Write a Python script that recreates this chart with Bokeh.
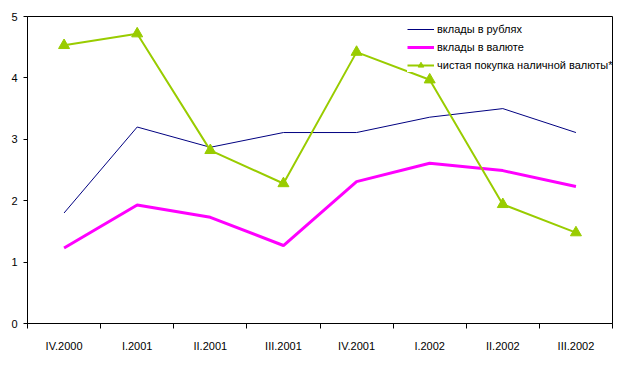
from bokeh.plotting import figure
from bokeh.models import FixedTicker, Range1d, Legend, LegendItem
from bokeh.embed import file_html
from bokeh.resources import INLINE

categories = ["IV.2000", "I.2001", "II.2001", "III.2001", "IV.2001", "I.2002", "II.2002", "III.2002"]
rub = [1.80, 3.20, 2.87, 3.11, 3.11, 3.36, 3.50, 3.11]
fx = [1.23, 1.93, 1.73, 1.27, 2.31, 2.61, 2.49, 2.23]
cash = [4.53, 4.72, 2.82, 2.28, 4.42, 3.97, 1.94, 1.48]
names = ["вклады в рублях", "вклады в валюте", "чистая покупка наличной валюты*"]

x = [i + 0.5 for i in range(len(categories))]

FONT = "Liberation Sans"

p = figure(width=631, height=360, output_backend="svg", toolbar_location=None,
           x_range=Range1d(0, len(categories)), y_range=Range1d(0, 5),
           min_border_left=27, min_border_right=19, min_border_top=16, min_border_bottom=37)
p.xgrid.visible = False
p.ygrid.visible = False
p.outline_line_color = "black"
p.outline_line_width = 1
p.background_fill_color = "white"
p.border_fill_color = "white"

r1 = p.line(x, rub, line_color="#000080", line_width=1)
r2 = p.line(x, fx, line_color="#FF00FF", line_width=3)
r3 = p.line(x, cash, line_color="#99CC00", line_width=2)
r3m = p.scatter(x, cash, marker="triangle", size=11, fill_color="#99CC00", line_color="#99CC00")

# x axis: labels at centers, ticks at boundaries
p.xaxis.ticker = FixedTicker(ticks=x, minor_ticks=list(range(len(categories) + 1)))
p.xaxis.major_label_overrides = {xi: c for xi, c in zip(x, categories)}
p.xaxis.major_tick_out = 0
p.xaxis.major_tick_in = 0
p.xaxis.minor_tick_out = 5
p.xaxis.minor_tick_in = 0
p.xaxis.minor_tick_line_color = "black"
p.xaxis.major_label_standoff = 11

p.yaxis.ticker = FixedTicker(ticks=[0, 1, 2, 3, 4, 5])
p.yaxis.major_tick_out = 4
p.yaxis.major_tick_in = 0
p.yaxis.minor_tick_line_color = None
p.yaxis.major_label_standoff = 6

for ax in [p.xaxis[0], p.yaxis[0]]:
    ax.axis_line_color = "black"
    ax.major_tick_line_color = "black"
    ax.major_label_text_font = FONT
    ax.major_label_text_font_size = "11px"
    ax.major_label_text_color = "black"

legend = Legend(items=[
    LegendItem(label=names[0], renderers=[r1]),
    LegendItem(label=names[1], renderers=[r2]),
    LegendItem(label=names[2], renderers=[r3, r3m]),
], location=(380, 251))
legend.border_line_color = None
legend.background_fill_color = "white"
legend.background_fill_alpha = 1
legend.padding = 2
legend.margin = 0
legend.spacing = 4
legend.glyph_width = 27
legend.glyph_height = 14
legend.label_height = 14
legend.label_standoff = 3
legend.label_text_font = FONT
legend.label_text_font_size = "11px"
legend.label_text_color = "black"
p.add_layout(legend)

open("out.html", "w").write(file_html(p, INLINE))
